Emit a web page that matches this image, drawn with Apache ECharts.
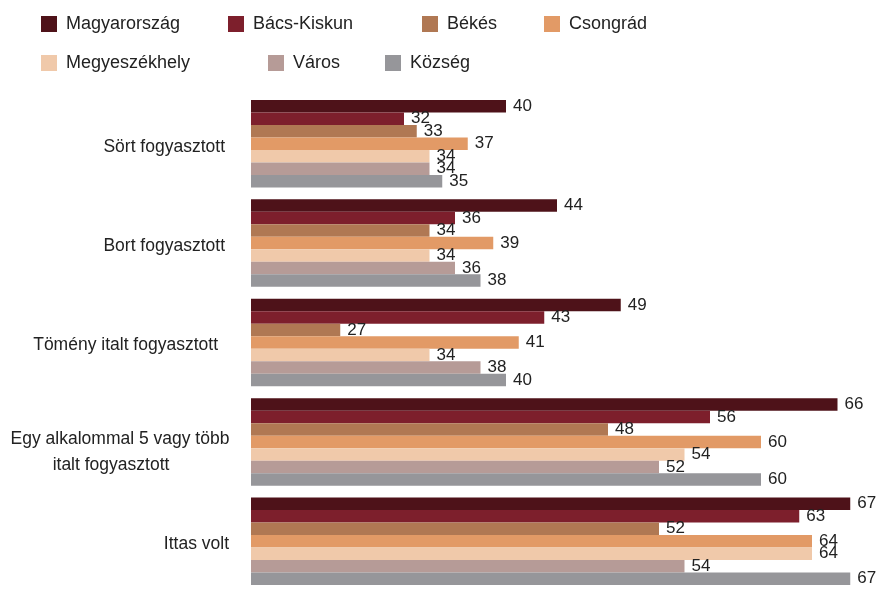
<!DOCTYPE html>
<html>
<head>
<meta charset="utf-8">
<script src="https://cdn.jsdelivr.net/npm/echarts@6/dist/echarts.min.js"></script>
<style>
html,body{margin:0;padding:0;background:#fff;}
#chart{width:879px;height:591px;}
</style>
</head>
<body>
<div id="chart"></div>
<script>
const categories = ['Sört fogyasztott', 'Bort fogyasztott', 'Tömény italt fogyasztott', 'Egy alkalommal 5 vagy több\nitalt fogyasztott', 'Ittas volt'];
const seriesNames = ['Magyarország', 'Bács-Kiskun', 'Békés', 'Csongrád', 'Megyeszékhely', 'Város', 'Község'];
const magyarorszag = [40, 44, 49, 66, 67];
const bacsKiskun = [32, 36, 43, 56, 63];
const bekes = [33, 34, 27, 48, 52];
const csongrad = [37, 39, 41, 60, 64];
const megyeszekhely = [34, 34, 34, 54, 64];
const varos = [34, 36, 38, 52, 54];
const kozseg = [35, 38, 40, 60, 67];
const colors = ['#4e1219', '#7d1f2c', '#b07853', '#e29a66', '#f0c9aa', '#b69b97', '#96969a'];
const allValues = [magyarorszag, bacsKiskun, bekes, csongrad, megyeszekhely, varos, kozseg];

const FONT = '"Liberation Sans", Arial, sans-serif';
const legendPos = [[41, 15], [228, 15], [422, 15], [544, 15], [41, 54], [268, 54], [385, 54]];

const chart = echarts.init(document.getElementById('chart'));
const base = { fontFamily: FONT, fontSize: 17.5, color: '#222' };
const option = {
  backgroundColor: '#ffffff',
  animation: false,
  color: colors,
  legend: seriesNames.map((n, i) => ({
    data: [n],
    left: legendPos[i][0],
    top: legendPos[i][1],
    padding: 0,
    itemWidth: 16,
    itemHeight: 16,
    itemGap: 0,
    icon: 'rect',
    textStyle: { fontFamily: FONT, fontSize: 18, color: '#222', padding: [0, 0, 0, 4] }
  })),
  grid: { left: 251, top: 94, height: 502, right: 16, containLabel: false },
  xAxis: {
    type: 'value', min: 20, max: 68, show: false,
    splitLine: { show: false }
  },
  yAxis: {
    type: 'category', data: categories, inverse: true,
    axisLine: { show: false }, axisTick: { show: false },
    axisLabel: {
      margin: 22,
      fontFamily: FONT, fontSize: 17.5, color: '#222',
      formatter: function (v, idx) {
        if (idx === 3) {
          const parts = v.split('\n');
          return '{e| }\n{c|' + parts[0] + '}\n{c2|' + parts[1] + '}{p| }';
        }
        if (idx === 2) return '{t|' + v + '}';
        if (idx === 4) return '{n|' + v + '}';
        return '{s|' + v + '}';
      },
      rich: {
        e: Object.assign({}, base, { lineHeight: 20, fontSize: 10 }),
        c: Object.assign({ width: 218, align: 'center', lineHeight: 26 }, base),
        c2: Object.assign({ width: 200, align: 'center', lineHeight: 26 }, base),
        p: Object.assign({ width: 18, lineHeight: 26 }, base),
        t: Object.assign({ padding: [6, 11, 0, 0] }, base),
        s: Object.assign({ padding: [6, 4, 0, 0] }, base),
        n: Object.assign({ padding: [6, 0, 0, 0] }, base)
      }
    }
  },
  series: seriesNames.map((n, i) => ({
    name: n,
    type: 'bar',
    data: allValues[i],
    barWidth: 12.5,
    barGap: '0%',
    itemStyle: { color: colors[i] },
    label: {
      show: true, position: 'right', distance: 7,
      fontFamily: FONT, fontSize: 17, color: '#222'
    }
  }))
};
chart.setOption(option);
</script>
</body>
</html>
